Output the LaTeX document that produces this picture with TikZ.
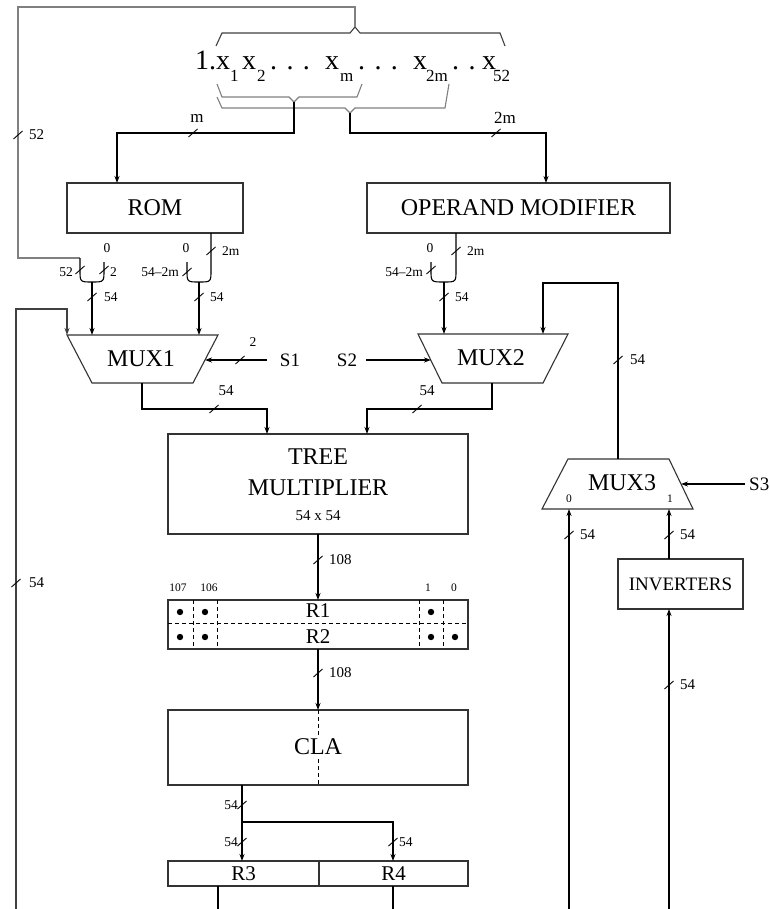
\documentclass[tikz,border=0pt]{standalone}
\usepackage{fontspec}
\setmainfont{Liberation Serif}
\usetikzlibrary{arrows.meta,calc}
\newcommand\fzA{\fontsize{24}{27}\selectfont}
\newcommand\fzR{\fontsize{21}{24}\selectfont}
\newcommand\fzB{\fontsize{15}{17}\selectfont}
\newcommand\fzC{\fontsize{13.5}{15}\selectfont}
\newcommand\fzD{\fontsize{11.5}{13}\selectfont}
\newcommand\fzT{\fontsize{28}{30}\selectfont}
\newcommand\fzS{\fontsize{17}{19}\selectfont}
\newcommand\fzI{\fontsize{19}{21}\selectfont}
\begin{document}
\begin{tikzpicture}[x=1pt,y=-1pt,
 wire/.style={line width=1.1pt,draw=black},
 gwire/.style={line width=1.1pt,draw=black!50},
 arr/.style={wire,-{Stealth[length=7pt,width=5pt]}},
 blk/.style={draw=black!80,line width=1.1pt,inner sep=0pt,fill=white,font=\fzA},
 lab/.style={inner sep=0pt,font=\fzB},
 sml/.style={inner sep=0pt,font=\fzC},
 tiny/.style={inner sep=0pt,font=\fzD},
 big/.style={anchor=base west,inner sep=0pt,font=\fzT},
 sub/.style={anchor=base west,inner sep=0pt,font=\fzS},
 dsh/.style={line width=0.9pt,dash pattern=on 4pt off 3pt},
 bs/.pic={\draw[line width=0.9pt] (-4.5pt,-4pt) -- (4.5pt,4pt);},
]
\useasboundingbox (0,0) rectangle (769,909);

% ---------- top word ----------
\node[big] (t1) at (195,70) {1.x};
\node[sub] (u1) at (230,82) {1};
\node[big] (t2) at (242,70) {x};
\node[sub] (u2) at (257,82) {2};
\node[big] (t3) at (270,70) {.\,\,.\,\,.};
\node[big] (t4) at (325,70) {x};
\node[sub] (u4) at (340,82) {m};
\node[big] (t5) at (358,70) {.\,\,.\,\,.};
\node[big] (t6) at (413,70) {x};
\node[sub] (u6) at (426,82) {2m};
\node[big] (t7) at (452,70) {.\,\,.};
\node[big] (t8) at (482,70) {x};
\node[sub] (u8) at (493,82) {52};

% braces
\draw[wire,draw=black!75] (216,46) -- (222,33) -- (350,33) -- (355,27) -- (360,33) -- (500,33) -- (505,46);
\coordinate (tb) at (355,27);
\draw[gwire] (217,84) -- (222,97) -- (289,97) -- (294,102) -- (299,97) -- (357,97) -- (362,84);
\coordinate (bb1) at (294,102);
\draw[gwire] (217,97) -- (222,108) -- (345,108) -- (350,113) -- (355,108) -- (445,108) -- (449,84);
\coordinate (bb2) at (350,113);

% ---------- boxes ----------
\node[blk,minimum width=176pt,minimum height=50pt] (rom) at (155,208) {ROM};
\node[blk,minimum width=303pt,minimum height=50pt] (opm) at (518.5,208) {OPERAND MODIFIER};
\node[blk,minimum width=300pt,minimum height=100pt] (tree) at (318,484) {};
\node[inner sep=0pt,font=\fzA] (treeA) at (318,457) {TREE};
\node[inner sep=0pt,font=\fzA] (treeB) at (318,488) {MULTIPLIER};
\node[inner sep=0pt,font=\fzB] (treeC) at (318,516) {54 x 54};
\node[blk,minimum width=300pt,minimum height=49pt] (r12) at (318,624.5) {};
\node[blk,minimum width=300pt,minimum height=75pt] (cla) at (318,747.5) {};
\node[blk,minimum width=151pt,minimum height=25pt,font=\fzR] (r3) at (243.5,873.5) {R3};
\node[blk,minimum width=149pt,minimum height=25pt,font=\fzR] (r4) at (393.5,873.5) {R4};
\node[blk,minimum width=125pt,minimum height=50pt,font=\fzI] (inv) at (680.5,584) {INVERTERS};

% R1/R2 register detail
\draw[dsh] (168,623) -- (468,623);
\foreach \xx in {193,217,419,443} \draw[dsh] (\xx,600) -- (\xx,649);
\foreach \xx in {180,205,431} \fill (\xx,612) circle (3.2pt);
\foreach \xx in {180,205,431,455} \fill (\xx,637) circle (3.2pt);
\node[inner sep=1pt,font=\fzR] (r1l) at (318,611) {R1};
\node[inner sep=1pt,font=\fzR] (r2l) at (318,637) {R2};
\node[tiny] (b107) at (178,588) {107};
\node[tiny] (b106) at (209,588) {106};
\node[tiny] (b1) at (428,588) {1};
\node[tiny] (b0) at (454,588) {0};

% CLA
\draw[dsh] (318,710) -- (318,785);
\node[fill=white,inner sep=2pt,font=\fzA] (clal) at (318,747) {CLA};

% ---------- MUXes ----------
\draw[draw=black!80,line width=1.1pt] (67,335) -- (218,335) -- (193,383) -- (92,383) -- cycle;
\node[inner sep=0pt,font=\fzA] (mux1) at (141,359) {MUX1};
\draw[draw=black!80,line width=1.1pt] (418,334) -- (568,334) -- (543,383) -- (442,383) -- cycle;
\node[inner sep=0pt,font=\fzA] (mux2) at (491,358) {MUX2};
\draw[draw=black!80,line width=1.1pt] (568,459) -- (669,459) -- (693,509) -- (542,509) -- cycle;
\node[inner sep=0pt,font=\fzA] (mux3) at (622,483) {MUX3};
\node[tiny] (m3z) at (569,499) {0};
\node[tiny] (m3o) at (670,499) {1};

\coordinate (m1a) at (67,335);
\coordinate (m1b) at (92,335);
\coordinate (m1c) at (199,335);
\coordinate (m1s) at (205,360);
\coordinate (m1o) at (142,383);
\coordinate (m2a) at (444,334);
\coordinate (m2b) at (543,334);
\coordinate (m2s) at (431,360);
\coordinate (m2o) at (492,383);
\coordinate (m3t) at (618,459);
\coordinate (m3a) at (569,509);
\coordinate (m3b) at (669,509);
\coordinate (m3s) at (681,484);

% ---------- top connections ----------
\coordinate (topL) at (18,7);
\coordinate (ua1) at (80,258);
\draw[gwire] (tb) |- (topL) |- (ua1);
\pic at (18,135) {bs};
\node[lab,anchor=west] (l52) at (29,135) {52};

\coordinate (romi) at (117,183);
\coordinate (opmi) at (546,183);
\draw[arr] (bb1) -- (294,133) -| (romi);
\draw[arr] (bb2) -- (350,133) -| (opmi);
\pic at (193,133) {bs};
\node[lab,font=\fzS] (lm) at (197,118) {m};
\pic at (496,133) {bs};
\node[lab,font=\fzS] (l2m) at (505,118) {2m};

% ---------- merges under ROM ----------
\draw[wire] (ua1) -- (80,270) .. controls (80,282) .. (92,282) .. controls (104,282) .. (104,270) -- (104,262);
\pic at (80,270) {bs};
\pic at (104,270) {bs};
\node[sml] (lz1) at (107,248) {0};
\node[sml,anchor=east] (l52b) at (73,272) {52};
\node[sml,anchor=west] (l2) at (110,272) {2};
\coordinate (uLb) at (92,282);
\draw[arr] (uLb) -- (m1b);
\pic at (92,297) {bs};
\node[sml,anchor=west] (l54a) at (104,297) {54};

\coordinate (romo) at (211,233);
\draw[wire] (romo) -- (211,270) .. controls (211,282) .. (199,282) .. controls (187,282) .. (187,270) -- (187,262);
\pic at (211,251) {bs};
\node[sml,anchor=west] (l2mb) at (222,251) {2m};
\pic at (187,272) {bs};
\node[sml] (lz2) at (186,248) {0};
\node[sml,anchor=east] (l54m) at (179,272) {54\textendash 2m};
\coordinate (uRb) at (199,282);
\draw[arr] (uRb) -- (m1c);
\pic at (199,297) {bs};
\node[sml,anchor=west] (l54b) at (210,297) {54};

% ---------- merge under OPERAND MODIFIER ----------
\coordinate (opmo) at (456,233);
\draw[wire] (opmo) -- (456,270) .. controls (456,282) .. (444,282) .. controls (431,282) .. (431,270) -- (431,262);
\pic at (456,251) {bs};
\node[sml,anchor=west] (l2mc) at (467,251) {2m};
\pic at (431,270) {bs};
\node[sml] (lz3) at (430,248) {0};
\node[sml,anchor=east] (l54n) at (423,272) {54\textendash 2m};
\coordinate (uOb) at (444,282);
\draw[arr] (uOb) -- (m2a);
\pic at (444,297) {bs};
\node[sml,anchor=west] (l54c) at (455,297) {54};

% ---------- left feedback loop ----------
\coordinate (lbot) at (16,909);
\draw[arr,draw=black!75] (lbot) -- (16,309) -| (m1a);
\pic at (16,583) {bs};
\node[lab,anchor=west] (l54l) at (29,583) {54};

% ---------- select lines ----------
\node[inner sep=0pt,font=\fzI] (s1) at (290,360) {S1};
\coordinate (s1a) at (267,360);
\draw[arr] (s1a) -- (m1s);
\pic at (240,360) {bs};
\node[sml] (l2s) at (253,342) {2};
\node[inner sep=0pt,font=\fzI] (s2) at (347,360) {S2};
\coordinate (s2a) at (366,360);
\draw[arr] (s2a) -- (m2s);
\node[inner sep=0pt,font=\fzI,anchor=west] (s3) at (749,484) {S3};
\coordinate (s3a) at (745,484);
\draw[arr] (s3a) -- (m3s);

% ---------- MUX outputs into tree ----------
\coordinate (ti1) at (267,434);
\coordinate (ti2) at (367,434);
\draw[arr] (m1o) -- (142,409) -| (ti1);
\draw[arr] (m2o) -- (492,409) -| (ti2);
\pic at (214,409) {bs};
\node[lab] (l54d) at (226,391) {54};
\pic at (417,409) {bs};
\node[lab] (l54e) at (427,391) {54};

% MUX3 -> MUX2
\draw[arr] (m3t) -- (618,283) -| (m2b);
\pic at (618,360) {bs};
\node[lab,anchor=west] (l54f) at (630,360) {54};

% MUX3 inputs
\coordinate (m3abot) at (569,909);
\draw[arr] (m3abot) -- (m3a);
\pic at (569,535) {bs};
\node[lab,anchor=west] (l54g) at (580,535) {54};
\coordinate (invt) at (669,559);
\coordinate (invb) at (669,609);
\draw[arr] (invt) -- (m3b);
\pic at (669,535) {bs};
\node[lab,anchor=west] (l54h) at (680,535) {54};
\coordinate (m3bbot) at (669,909);
\draw[arr] (m3bbot) -- (invb);
\pic at (669,685) {bs};
\node[lab,anchor=west] (l54i) at (680,685) {54};

% ---------- datapath down ----------
\coordinate (treeo) at (318,534);
\coordinate (r12i) at (318,600);
\draw[arr] (treeo) -- (r12i);
\pic at (318,560) {bs};
\node[lab,anchor=west] (l108a) at (329,560) {108};
\coordinate (r12o) at (318,649);
\coordinate (clai) at (318,710);
\draw[arr] (r12o) -- (clai);
\pic at (318,673) {bs};
\node[lab,anchor=west] (l108b) at (329,673) {108};

\coordinate (clao) at (242,785);
\coordinate (jn) at (242,822);
\coordinate (r3i) at (242,861);
\coordinate (r4i) at (393,861);
\draw[wire] (clao) -- (jn);
\draw[arr] (jn) -- (r3i);
\draw[arr] (jn) -- (393,822) -- (r4i);
\pic at (242,805) {bs};
\node[sml,anchor=east] (l54j) at (238,805) {54};
\pic at (242,842) {bs};
\node[sml,anchor=east] (l54k) at (238,842) {54};
\pic at (393,842) {bs};
\node[sml,anchor=west] (l54m2) at (399,842) {54};

\coordinate (r3o) at (218,886);
\coordinate (r4o) at (393,886);
\draw[wire] (r3o) -- (218,909);
\draw[wire] (r4o) -- (393,909);
\end{tikzpicture}
\end{document}
